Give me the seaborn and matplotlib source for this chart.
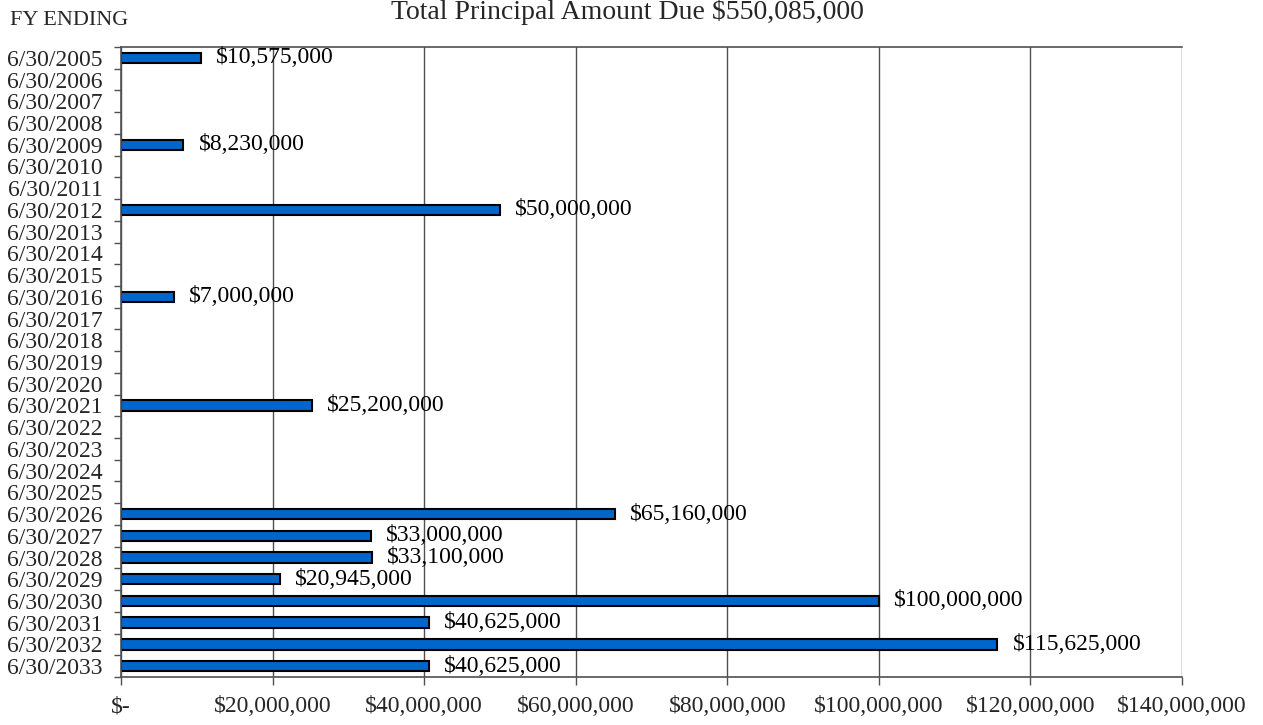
import numpy as np
import pandas as pd
import matplotlib
matplotlib.use("Agg")
import matplotlib.pyplot as plt
import seaborn as sns
from matplotlib.ticker import FuncFormatter, FixedLocator

# FY ending dates, one row per year 2005-2033
years = [f"6/30/{y}" for y in range(2005, 2034)]
# only the years with principal due
due_years = ["6/30/2005", "6/30/2009", "6/30/2012", "6/30/2016", "6/30/2021",
             "6/30/2026", "6/30/2027", "6/30/2028", "6/30/2029", "6/30/2030",
             "6/30/2031", "6/30/2032", "6/30/2033"]
due_amounts = [10575000, 8230000, 50000000, 7000000, 25200000,
               65160000, 33000000, 33100000, 20945000, 100000000,
               40625000, 115625000, 40625000]
total_due = 550085000

sns.set_theme(style="white")
plt.rcParams["font.family"] = ["Liberation Serif", "DejaVu Serif"]

df = pd.DataFrame({"fy": due_years, "amount": due_amounts})

fig = plt.figure(figsize=(12.63, 7.25), dpi=100)
ax = fig.add_axes([0.0958, 0.0662, 0.8401, 0.869])

sns.barplot(data=df, x="amount", y="fy", order=years, orient="h",
            color="#0066CC", saturation=1, width=0.48,
            edgecolor="black", linewidth=1.5, ax=ax)

# value labels
for fy, amt in zip(due_years, due_amounts):
    ax.annotate(f"${amt:,.0f}", xy=(amt, years.index(fy)), xytext=(11, 0),
                textcoords="offset points", va="center", ha="left",
                fontsize=17, color="black")

ax.set_xlim(0, 140000000)
ax.set_ylim(len(years) - 0.5, -0.5)
ax.xaxis.set_major_locator(FixedLocator(np.arange(0, 140000001, 20000000)))
ax.xaxis.set_major_formatter(FuncFormatter(lambda v, p: "$-" if v == 0 else f"${v:,.0f}"))
ax.grid(axis="x", color="#505050", linewidth=1)
ax.set_axisbelow(True)

ax.set_yticks(range(len(years)))
ax.set_yticklabels(years)
ax.set_yticks(np.arange(-0.5, len(years), 1), minor=True)
ax.tick_params(axis="y", which="major", length=0, pad=13, labelsize=17)
ax.tick_params(axis="y", which="minor", direction="out", length=5, width=1, color="#505050", left=True)
ax.tick_params(axis="x", which="major", direction="out", length=6, width=1, color="#505050",
               bottom=True, pad=8, labelsize=17)
ax.set_xlabel("")
ax.set_ylabel("")

for side in ["left", "bottom", "top"]:
    ax.spines[side].set_visible(True)
    ax.spines[side].set_color("#505050")
    ax.spines[side].set_linewidth(1.2)
ax.spines["right"].set_visible(False)

fig.text(0.008, 0.972, "FY ENDING", fontsize=16, va="center", ha="left")
fig.text(0.497, 0.983, f"Total Principal Amount Due ${total_due:,.0f}",
         fontsize=20, va="center", ha="center")

fig.savefig("out.png", dpi=100)
